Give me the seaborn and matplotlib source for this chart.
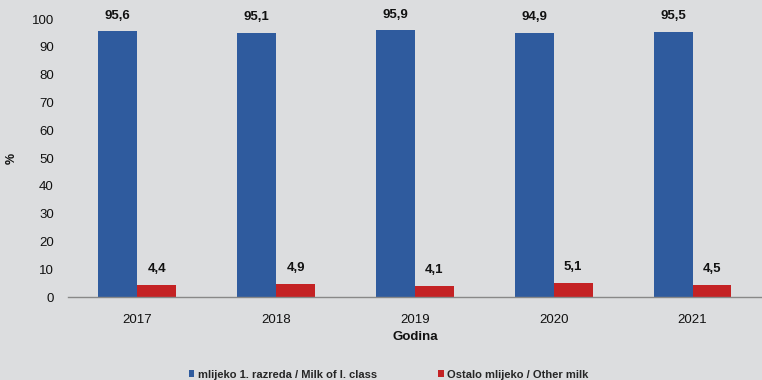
import matplotlib
matplotlib.use("Agg")
import matplotlib.pyplot as plt
from matplotlib.patches import Patch
import seaborn as sns
import pandas as pd

years = ["2017", "2018", "2019", "2020", "2021"]
first_class = [95.6, 95.1, 95.9, 94.9, 95.5]
other_milk = [4.4, 4.9, 4.1, 5.1, 4.5]
series_names = ["mlijeko 1. razreda / Milk of I. class", "Ostalo mlijeko / Other milk"]
colors = ["#2f5b9e", "#c42224"]
bg = "#dcdddf"

df = pd.DataFrame({
    "Godina": years * 2,
    "value": first_class + other_milk,
    "series": [series_names[0]] * len(years) + [series_names[1]] * len(years),
})

sns.set_theme(style="white")
plt.rcParams["font.family"] = ["Liberation Sans", "DejaVu Sans"]

fig = plt.figure(figsize=(7.62, 3.8), dpi=100, facecolor=bg)
ax = fig.add_axes([0.089, 0.218, 0.911, 0.732], facecolor=bg)

sns.barplot(data=df, x="Godina", y="value", hue="series", palette=colors,
            width=0.56, ax=ax, legend=False, saturation=1, gap=0.0,
            edgecolor="none", linewidth=0)

for cont in ax.containers:
    ax.bar_label(cont, labels=[f"{v:.1f}".replace(".", ",") for v in cont.datavalues],
                 padding=7, fontsize=9.5, fontweight="bold", color="#111111")

ax.set_ylim(0, 100)
ax.set_xlim(-0.5, 4.5)
ax.set_yticks(range(0, 101, 10))
ax.tick_params(axis="y", length=0, labelsize=9.5, pad=10, colors="#111111")
ax.tick_params(axis="x", length=0, labelsize=9.5, pad=12, colors="#111111")

# category boundary ticks on the x axis
ax.set_xticks([i + 0.5 for i in range(-1, 5)], minor=True)
ax.tick_params(axis="x", which="minor", length=4, color="#888888", direction="out")

for side in ["top", "right", "left"]:
    ax.spines[side].set_visible(False)
ax.spines["bottom"].set_color("#888888")
ax.spines["bottom"].set_linewidth(1)

ax.set_xlabel("Godina", fontsize=9.5, fontweight="bold", labelpad=4, color="#111111")
ax.set_ylabel("%", fontsize=9, fontweight="bold", labelpad=10, color="#111111")

handles = [Patch(facecolor=c, edgecolor="none") for c in colors]
fig.legend(handles, series_names, loc="lower center", bbox_to_anchor=(0.51, -0.025),
           ncol=2, frameon=False, prop={"size": 8, "weight": "bold"},
           handlelength=0.5, handleheight=0.5, handletextpad=0.3, columnspacing=5.5)

fig.savefig("out.png", dpi=100, facecolor=bg)
